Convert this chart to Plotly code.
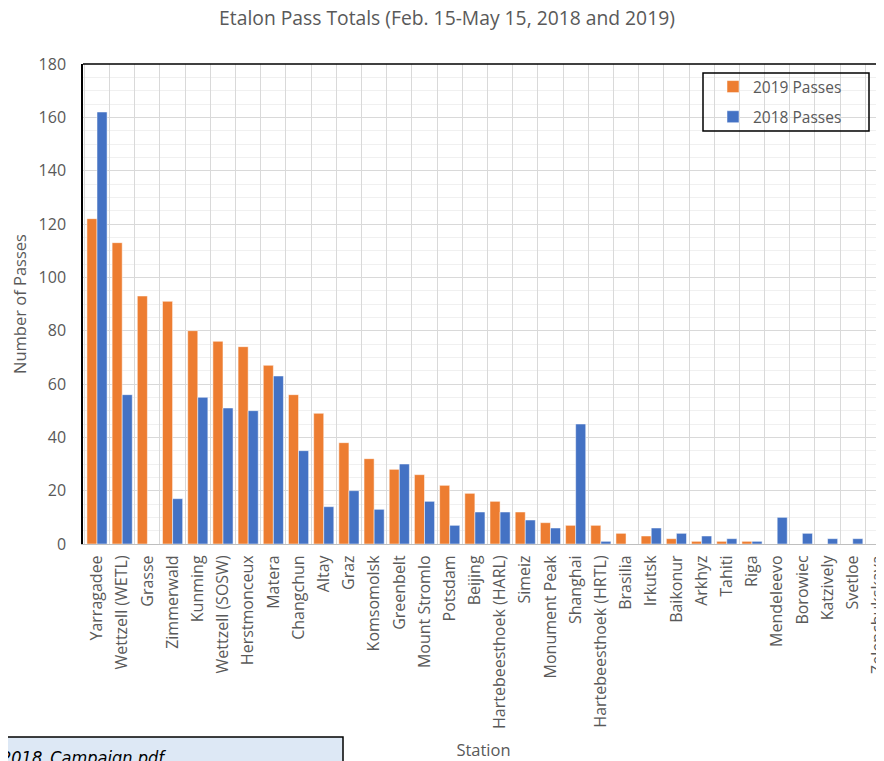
import plotly.graph_objects as go

stations = ["Yarragadee", "Wettzell (WETL)", "Grasse", "Zimmerwald", "Kunming",
            "Wettzell (SOSW)", "Herstmonceux", "Matera", "Changchun", "Altay", "Graz",
            "Komsomolsk", "Greenbelt", "Mount Stromlo", "Potsdam", "Beijing",
            "Hartebeesthoek (HARL)", "Simeiz", "Monument Peak", "Shanghai",
            "Hartebeesthoek (HRTL)", "Brasilia", "Irkutsk", "Baikonur", "Arkhyz",
            "Tahiti", "Riga", "Mendeleevo", "Borowiec", "Katzively", "Svetloe",
            "Zelenchukskaya"]
passes_2019 = [122, 113, 93, 91, 80, 76, 74, 67, 56, 49, 38, 32, 28, 26, 22, 19, 16,
               12, 8, 7, 7, 4, 3, 2, 1, 1, 1, 0, 0, 0, 0, 0]
passes_2018 = [162, 56, 0, 17, 55, 51, 50, 63, 35, 14, 20, 13, 30, 16, 7, 12, 12,
               9, 6, 45, 1, 0, 6, 4, 3, 2, 1, 10, 4, 2, 2, 1]

OFF = 8                      # page body margin
W, H = 884 - OFF, 761 - OFF
L, T = 83 - OFF, 64 - OFF    # plot area left/top (figure coords)
PB = 544 - OFF               # plot bottom (figure coords)
B = H - PB
PW = W - L
PH = PB - T

def px_x(p):                 # screen px -> paper x
    return (p - OFF - L) / PW

def px_y(p):                 # screen px -> paper y
    return (PB - (p - OFF)) / PH

txt = "#595959"
fig = go.Figure()
fig.add_trace(go.Bar(x=stations, y=passes_2019, name="2019 Passes",
                     marker=dict(color="#ED7D31", line=dict(color="white", width=0.5)),
                     legendgroup="a"))
fig.add_trace(go.Bar(x=stations, y=passes_2018, name="2018 Passes",
                     marker=dict(color="#4472C4", line=dict(color="white", width=0.5)),
                     legendgroup="b"))

fig.update_layout(
    width=W, height=H,
    margin=dict(l=L, r=0, t=T, b=B, autoexpand=False),
    paper_bgcolor="white", plot_bgcolor="white",
    barmode="group", bargap=0.2, bargroupgap=0,
    font=dict(family="Open Sans, Lato, sans-serif", color=txt),
    title=dict(text="Etalon Pass Totals (Feb. 15-May 15, 2018 and 2019)",
               x=(447 - OFF) / W, xref="container", xanchor="center",
               y=1 - (18 - OFF) / H, yref="container", yanchor="middle",
               font=dict(size=19.3, color=txt, family="Open Sans, sans-serif")),
    showlegend=True,
    legend=dict(x=px_x(713), y=px_y(70), xanchor="left", yanchor="top",
                bgcolor="rgba(0,0,0,0)", borderwidth=0,
                font=dict(size=15.5, color=txt),
                traceorder="grouped", tracegroupgap=7),
    xaxis=dict(type="category", range=[-0.556, 31.24],
               tickangle=-90, tickfont=dict(size=16, color=txt),
               showgrid=True, gridcolor="#d9d9d9", gridwidth=1,
               tickson="boundaries", ticks="", ticklabelstandoff=4,
               showline=True, linecolor="#bfbfbf", linewidth=1,
               automargin=False,
               title=dict(text="Station", font=dict(size=16.5, color=txt), standoff=24)),
    yaxis=dict(range=[0, 180], dtick=20, tickfont=dict(size=16, color=txt),
               showgrid=True, gridcolor="#d9d9d9", gridwidth=1,
               minor=dict(dtick=5, showgrid=True, gridcolor="#f0f0f0", gridwidth=1),
               showline=True, linecolor="black", linewidth=1.5,
               ticks="", ticklabelstandoff=12, zeroline=False, automargin=False,
               title=dict(text="Number of Passes", font=dict(size=16.5, color=txt),
                          standoff=14)),
    shapes=[
        dict(type="line", xref="paper", yref="paper", x0=0, x1=1.05, y0=1, y1=1,
             line=dict(color="black", width=1.5)),
        dict(type="rect", xref="paper", yref="paper",
             x0=px_x(703), x1=px_x(869), y0=px_y(131), y1=px_y(73),
             line=dict(color="black", width=1.5), fillcolor="rgba(0,0,0,0)"),
        dict(type="rect", xref="paper", yref="paper",
             x0=px_x(-5), x1=px_x(343), y0=px_y(775), y1=px_y(737),
             line=dict(color="black", width=1.5), fillcolor="#dde8f5", layer="above"),
    ],
    annotations=[
        dict(text="2018_Campaign.pdf", xref="paper", yref="paper",
             x=px_x(-1), y=px_y(745), xanchor="left", yanchor="top",
             showarrow=False,
             font=dict(size=18, color="black",
                       family="Liberation Sans Narrow, DejaVu Sans Condensed, sans-serif",
                       style="italic")),
    ],
)

fig.write_html("out.html")
